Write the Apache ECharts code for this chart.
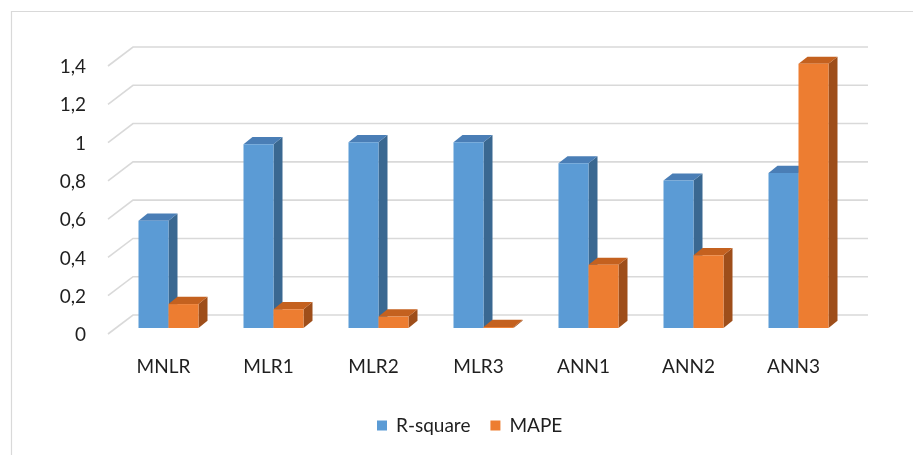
<!DOCTYPE html>
<html>
<head>
<meta charset="utf-8">
<script src="https://cdn.jsdelivr.net/npm/echarts@6/dist/echarts.min.js"></script>
<style>
  html, body { margin: 0; padding: 0; background: #fff; }
  #chart { width: 913px; height: 455px; }
</style>
</head>
<body>
<div id="chart"></div>
<script>
// Model comparison: R-square and MAPE per model
const categories = ['MNLR', 'MLR1', 'MLR2', 'MLR3', 'ANN1', 'ANN2', 'ANN3'];
const rSquare = [0.56, 0.96, 0.97, 0.97, 0.86, 0.77, 0.81];
const mape = [0.125, 0.098, 0.06, 0.005, 0.33, 0.38, 1.38];
const yTickValues = [0, 0.2, 0.4, 0.6, 0.8, 1.0, 1.2, 1.4];
const yTickLabels = ['0', '0,2', '0,4', '0,6', '0,8', '1', '1,2', '1,4'];

const FONT = 'Lato, "Open Sans", sans-serif';
const TEXT_COLOR = '#1f1f1f';

// 3D box column: front face, top face and right side face
function boxRenderer(side, colors) {
  return function (params, api) {
    const i = api.value(0);
    const v = api.value(1);
    const base = api.coord([i, 0]);
    const tip = api.coord([i, v]);
    const band = api.size([1, 0])[0];
    const w = band * 30 / 105;
    const x0 = side < 0 ? base[0] - w : base[0];
    const x1 = x0 + w;
    const y0 = base[1];
    const y1 = tip[1];
    const dx = w * 0.3;
    const dy = -w * 0.24;
    return {
      type: 'group',
      children: [
        { type: 'polygon', shape: { points: [[x1, y1], [x1 + dx, y1 + dy], [x1 + dx, y0 + dy], [x1, y0]] },
          style: { fill: colors.side } },
        { type: 'polygon', shape: { points: [[x0, y1], [x0 + dx, y1 + dy], [x1 + dx, y1 + dy], [x1, y1]] },
          style: { fill: colors.top } },
        { type: 'rect', shape: { x: x0, y: y1, width: w, height: Math.max(y0 - y1, 0.5) },
          style: { fill: colors.front } }
      ]
    };
  };
}

// Floor-to-back-wall gridlines bent like a 3D chart wall, with the value label at the front end
function gridRenderer(params, api) {
  const v = api.value(1);
  const p = api.coord([0, v]);
  const band = api.size([1, 0])[0];
  const left = p[0] - band / 2;
  const right = api.coord([categories.length - 1, v])[0] + band / 2;
  const y = p[1];
  return {
    type: 'group',
    children: [
      {
        type: 'polyline',
        shape: { points: [[left - 8, y + 6], [left + 17, y - 13], [right + 17, y - 13]] },
        style: { stroke: '#d9d9d9', lineWidth: 1.6, fill: null }
      },
      {
        type: 'text',
        x: left - 30,
        y: y + 7,
        style: {
          text: yTickLabels[params.dataIndex],
          align: 'right',
          verticalAlign: 'middle',
          font: '19px ' + FONT,
          fill: TEXT_COLOR
        }
      }
    ]
  };
}

const chart = echarts.init(document.getElementById('chart'), null, { renderer: 'canvas' });

chart.setOption({
  animation: false,
  backgroundColor: '#fff',
  graphic: [{
    type: 'rect',
    shape: { x: 11.5, y: 11.5, width: 1000, height: 1000 },
    style: { fill: null, stroke: '#d9d9d9', lineWidth: 1.2 },
    silent: true,
    z: -10
  }],
  grid: { left: 116, right: 62, top: 60, bottom: 127 },
  xAxis: {
    type: 'category',
    data: categories,
    axisLine: { show: false },
    axisTick: { show: false },
    splitLine: { show: false },
    axisLabel: {
      margin: 29,
      fontFamily: FONT,
      fontSize: 19,
      color: TEXT_COLOR,
      padding: [0, 10, 0, 0]
    }
  },
  yAxis: {
    type: 'value',
    min: 0,
    max: 1.4,
    interval: 0.2,
    axisLine: { show: false },
    axisTick: { show: false },
    splitLine: { show: false },
    axisLabel: { show: false }
  },
  legend: {
    left: 372,
    top: 411,
    itemWidth: 10,
    itemHeight: 10,
    itemGap: 20,
    icon: 'rect',
    textStyle: { fontFamily: FONT, fontSize: 19, color: TEXT_COLOR, padding: [0, 0, 0, 4] },
    data: ['R-square', 'MAPE']
  },
  series: [
    {
      type: 'custom',
      name: 'grid',
      silent: true,
      z: 0,
      clip: false,
      renderItem: gridRenderer,
      data: yTickValues.map(v => [0, v])
    },
    {
      type: 'custom',
      name: 'R-square',
      z: 2,
      clip: false,
      itemStyle: { color: '#5B9BD5' },
      renderItem: boxRenderer(-1, { front: '#5B9BD5', top: '#4A7EB6', side: '#3A6891' }),
      data: rSquare.map((v, i) => [i, v])
    },
    {
      type: 'custom',
      name: 'MAPE',
      z: 3,
      clip: false,
      itemStyle: { color: '#ED7D31' },
      renderItem: boxRenderer(1, { front: '#ED7D31', top: '#C4611F', side: '#9E4E1A' }),
      data: mape.map((v, i) => [i, v])
    }
  ]
});
</script>
</body>
</html>
